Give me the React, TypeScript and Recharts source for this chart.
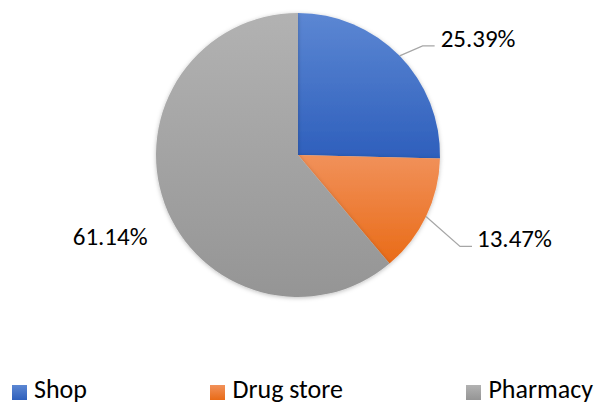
import React from "react";
import { PieChart, Pie, Cell, Legend } from "recharts";

const categories = ["Shop", "Drug store", "Pharmacy"];
const shares = [25.39, 13.47, 61.14];

const colors = [
  { top: "#5c87d3", bottom: "#2e5fbc" },
  { top: "#f1915a", bottom: "#e96b17" },
  { top: "#b2b2b2", bottom: "#959595" },
];

const data = categories.map((name, i) => ({ name, value: shares[i] }));

const FONT = "Carlito, Calibri, Lato, sans-serif";
const RAD = Math.PI / 180;

// label placement relative to the slice's outer mid point (Excel "best fit" look)
const labelLayout = [
  { line: true, elbow: [23, -10], end: 35, tx: 41, ty: -9, anchor: "start" },
  { line: true, elbow: [34, 30], end: 46, tx: 51, ty: 31, anchor: "start" },
  { line: false, elbow: [0, 0], end: 0, tx: -17, ty: 41, anchor: "end" },
];

const renderLabel = (props: any) => {
  const { cx, cy, midAngle, outerRadius, index, value } = props;
  const px = cx + outerRadius * Math.cos(-midAngle * RAD);
  const py = cy + outerRadius * Math.sin(-midAngle * RAD);
  const l = labelLayout[index];
  return (
    <g key={`lbl-${index}`}>
      {l.line && (
        <polyline
          points={`${px},${py} ${px + l.elbow[0]},${py + l.elbow[1]} ${px + l.end},${py + l.elbow[1]}`}
          fill="none"
          stroke="#a6a6a6"
          strokeWidth={1.2}
        />
      )}
      <text x={px + l.tx} y={py + l.ty} textAnchor={l.anchor} fill="#000" fontSize={25} fontFamily={FONT}>
        {`${Number(value).toFixed(2)}%`}
      </text>
    </g>
  );
};

const renderLegend = () => (
  <div
    style={{
      display: "flex",
      justifyContent: "space-between",
      padding: "0 5px 0 12px",
      fontFamily: FONT,
      fontSize: 26,
      lineHeight: "26px",
      color: "#000",
    }}
  >
    {categories.map((name, i) => (
      <div key={name} style={{ display: "flex", alignItems: "center" }}>
        <div
          style={{
            width: 15,
            height: 15,
            marginTop: 7,
            marginRight: 7,
            background: `linear-gradient(${colors[i].top}, ${colors[i].bottom})`,
          }}
        />
        <span>{name}</span>
      </div>
    ))}
  </div>
);

export default function App() {
  return (
    <div style={{ position: "absolute", left: 0, top: 0, width: 598, height: 403, background: "#fff", overflow: "hidden" }}>
      <PieChart width={598} height={403} margin={{ top: 0, right: 0, bottom: 0, left: 0 }}>
        <defs>
          {colors.map((c, i) => (
            <linearGradient key={i} id={`grad-${i}`} x1="0" y1="0" x2="0" y2="1">
              <stop offset="0%" stopColor={c.top} />
              <stop offset="100%" stopColor={c.bottom} />
            </linearGradient>
          ))}
          <filter id="pieShadow" x="-10%" y="-10%" width="120%" height="120%">
            <feDropShadow dx="0" dy="1" stdDeviation="2" floodColor="#000" floodOpacity="0.25" />
          </filter>
        </defs>
        <Pie
          data={data}
          dataKey="value"
          nameKey="name"
          cx={298}
          cy={155}
          outerRadius={142}
          startAngle={90}
          endAngle={-270}
          stroke="none"
          label={renderLabel}
          labelLine={false}
          isAnimationActive={false}
          style={{ filter: "url(#pieShadow)" }}
        >
          {data.map((d, i) => (
            <Cell key={d.name} fill={`url(#grad-${i})`} stroke="none" />
          ))}
        </Pie>
        <Legend content={renderLegend} wrapperStyle={{ left: 0, top: 376, width: 598 }} />
      </PieChart>
    </div>
  );
}
